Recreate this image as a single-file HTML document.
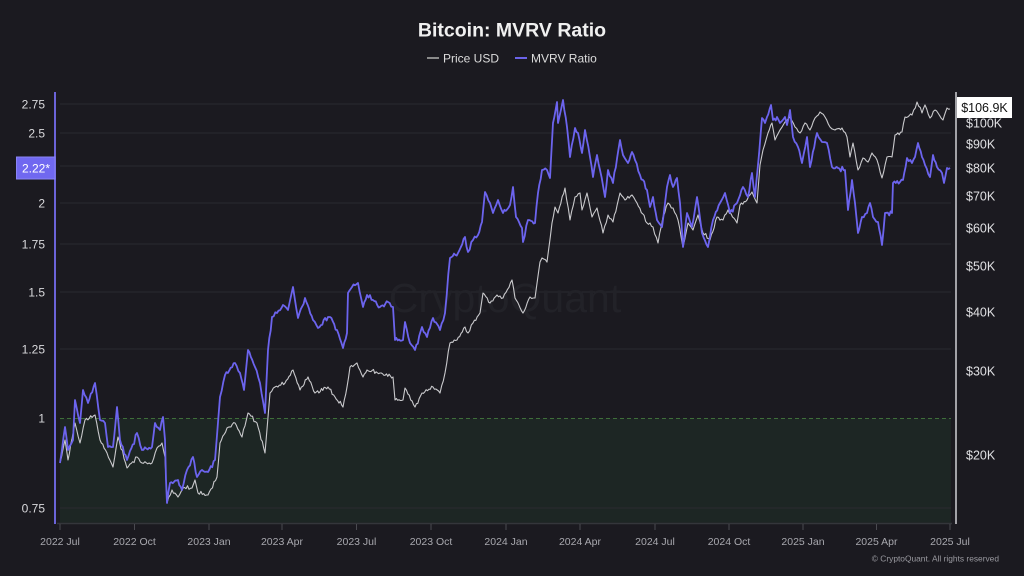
<!DOCTYPE html>
<html><head><meta charset="utf-8"><style>
html,body{margin:0;padding:0;background:#1b1a20;}
svg{display:block;font-family:"Liberation Sans",Arial,sans-serif;}
</style></head><body>
<svg width="1024" height="576" viewBox="0 0 1024 576" xmlns="http://www.w3.org/2000/svg">
<rect x="0" y="0" width="1024" height="576" fill="#1b1a20"/>
<!-- title & legend -->
<text x="512" y="36.5" text-anchor="middle" font-size="19.5" font-weight="bold" fill="#f0f0f0">Bitcoin: MVRV Ratio</text>
<line x1="427" y1="58" x2="439" y2="58" stroke="#8a8a8a" stroke-width="2"/>
<text x="443" y="62.5" font-size="12" fill="#dcdcdc">Price USD</text>
<line x1="515" y1="58" x2="527" y2="58" stroke="#6b63e8" stroke-width="2"/>
<text x="531" y="62.5" font-size="12" fill="#dcdcdc">MVRV Ratio</text>

<!-- green zone below 1 -->
<rect x="60" y="418.5" width="891" height="104" fill="#1d2624"/>
<!-- gridlines -->
<g stroke="#2a2a31" stroke-width="1">
<line x1="60" y1="104" x2="951" y2="104"/>
<line x1="60" y1="133" x2="951" y2="133"/>
<line x1="60" y1="166" x2="951" y2="166"/>
<line x1="60" y1="203" x2="951" y2="203"/>
<line x1="60" y1="244" x2="951" y2="244"/>
<line x1="60" y1="292" x2="951" y2="292"/>
<line x1="60" y1="349" x2="951" y2="349"/>
<line x1="60" y1="508" x2="951" y2="508"/>
</g>
<line x1="60" y1="418.5" x2="951" y2="418.5" stroke="#3f6e3a" stroke-width="1" stroke-dasharray="4,3"/>
<!-- watermark -->
<text x="505" y="312" text-anchor="middle" font-size="41" fill="#222228">CryptoQuant</text>

<!-- x axis -->
<line x1="57" y1="523.5" x2="952" y2="523.5" stroke="#34363b" stroke-width="1.5"/>
<g stroke="#4a4a50" stroke-width="1">
<line x1="60" y1="524" x2="60" y2="530"/>
<line x1="134.5" y1="524" x2="134.5" y2="530"/>
<line x1="209" y1="524" x2="209" y2="530"/>
<line x1="282" y1="524" x2="282" y2="530"/>
<line x1="356.5" y1="524" x2="356.5" y2="530"/>
<line x1="431" y1="524" x2="431" y2="530"/>
<line x1="506" y1="524" x2="506" y2="530"/>
<line x1="580" y1="524" x2="580" y2="530"/>
<line x1="655" y1="524" x2="655" y2="530"/>
<line x1="729" y1="524" x2="729" y2="530"/>
<line x1="803" y1="524" x2="803" y2="530"/>
<line x1="876.5" y1="524" x2="876.5" y2="530"/>
<line x1="950" y1="524" x2="950" y2="530"/>
</g>
<g font-size="10.5" fill="#a8a8ae" text-anchor="middle">
<text x="60" y="545">2022 Jul</text>
<text x="134.5" y="545">2022 Oct</text>
<text x="209" y="545">2023 Jan</text>
<text x="282" y="545">2023 Apr</text>
<text x="356.5" y="545">2023 Jul</text>
<text x="431" y="545">2023 Oct</text>
<text x="506" y="545">2024 Jan</text>
<text x="580" y="545">2024 Apr</text>
<text x="655" y="545">2024 Jul</text>
<text x="729" y="545">2024 Oct</text>
<text x="803" y="545">2025 Jan</text>
<text x="876.5" y="545">2025 Apr</text>
<text x="950" y="545">2025 Jul</text>
</g>
<text x="999" y="561.5" text-anchor="end" font-size="8.4" fill="#9a9aa0">© CryptoQuant. All rights reserved</text>

<!-- left axis -->
<line x1="55" y1="92" x2="55" y2="524" stroke="#6b63d8" stroke-width="2"/>
<g font-size="12" fill="#d9d9dc" text-anchor="end">
<text x="45" y="108.5">2.75</text>
<text x="45" y="137.5">2.5</text>
<text x="45" y="207.5">2</text>
<text x="45" y="248.5">1.75</text>
<text x="45" y="296.5">1.5</text>
<text x="45" y="353.5">1.25</text>
<text x="45" y="422.5">1</text>
<text x="45" y="512.5">0.75</text>
</g>
<rect x="16.5" y="157" width="38.5" height="22" fill="#7068f0" stroke="#8a84f5" stroke-width="1"/>
<text x="36" y="172.5" text-anchor="middle" font-size="12" fill="#ffffff">2.22*</text>

<!-- right axis -->
<line x1="956" y1="92" x2="956" y2="524" stroke="#d0d0d4" stroke-width="1.5"/>
<g font-size="12.5" fill="#e0e0e3">
<text x="966" y="127.5">$100K</text>
<text x="966" y="148.5">$90K</text>
<text x="966" y="172.5">$80K</text>
<text x="966" y="200.5">$70K</text>
<text x="966" y="232.5">$60K</text>
<text x="966" y="270.5">$50K</text>
<text x="966" y="316.5">$40K</text>
<text x="966" y="375.5">$30K</text>
<text x="966" y="459.5">$20K</text>
</g>

<!-- price series -->
<polyline id="price" fill="none" stroke="#c9c9cc" stroke-width="1.1" stroke-linejoin="round" points="60,463 65,440 68,460 75,423 80,443 85,420 95,415 100,440 107,453 113,467 118,437 127,468 137,457 142,463 152,463 157,448 162,443 165,457 167,503 172,490 178,497 183,488 192,488 195,480 198,493 208,495 217,477 220,443 227,428 235,423 242,437 248,413 257,423 265,453 270,393 275,387 285,383 293,370 300,390 308,377 315,393 328,387 335,397 343,407 347,387 350,367 357,363 363,377 367,370 380,373 393,377 395,400 403,400 405,388 415,407 422,393 433,387 440,393 445,373 450,343 457,340 465,327 468,333 473,323 480,313 483,293 490,303 497,295 503,298 512,280 515,298 523,313 530,297 535,298 540,262 542,258 547,262 552,223 555,207 558,213 565,188 570,220 575,197 580,193 582,210 587,193 592,217 597,208 603,233 608,215 613,222 620,193 625,200 632,195 637,203 647,223 653,227 658,243 663,217 668,203 673,208 678,220 683,247 688,223 693,230 698,215 703,233 710,240 717,217 723,220 728,210 737,223 740,205 747,200 752,192 757,203 760,165 763,150 768,133 772,123 775,140 780,130 785,122 790,117 795,127 800,133 805,123 810,130 815,118 820,112 825,117 830,127 835,130 842,128 847,137 850,157 853,143 858,170 863,158 868,162 872,153 877,160 882,178 887,157 892,157 895,135 902,132 905,117 912,115 917,102 922,113 925,105 930,118 935,110 938,113 943,120 947,108 950,109"/>

<!-- MVRV series -->
<polyline id="mvrv" fill="none" stroke="#6c64ee" stroke-width="1.8" stroke-linejoin="round" points="60,463 65,427 68,450 73,440 75,400 80,423 83,390 88,403 95,383 100,420 105,423 108,447 113,447 117,407 120,440 127,460 137,433 142,450 152,447 155,423 160,430 163,417 165,440 166,480 167,503 170,483 178,480 182,490 187,470 193,457 197,477 202,470 208,472 215,460 220,397 225,375 235,363 240,373 244,390 248,350 255,367 260,383 265,413 268,350 272,317 277,313 283,305 288,310 293,287 298,318 305,298 313,320 318,328 328,317 330,317 337,330 343,348 347,333 348,293 352,287 358,283 363,307 367,295 373,300 380,307 388,302 393,307 395,340 403,340 405,322 410,343 415,350 422,327 427,337 433,318 440,330 445,313 450,258 458,253 465,237 468,252 473,240 478,235 482,222 485,192 490,203 493,213 498,200 503,213 510,205 513,187 516,217 522,228 523,242 528,220 535,223 538,193 542,170 547,170 550,178 553,123 557,102 558,123 563,100 567,127 570,157 575,128 578,133 582,153 585,130 590,157 593,177 597,155 600,170 605,197 608,170 613,183 620,140 623,155 628,163 632,152 635,160 640,175 647,190 650,207 653,197 657,220 662,227 667,187 670,175 673,187 677,178 680,203 683,247 687,213 692,227 697,197 702,233 708,247 713,220 720,203 725,193 730,213 737,203 743,187 748,197 752,173 755,197 758,165 762,118 765,123 767,117 771,105 773,120 777,117 780,123 785,117 787,125 790,110 793,137 798,147 802,163 807,137 810,167 817,133 822,142 827,143 832,167 838,168 845,170 848,210 852,180 855,203 858,233 862,217 867,213 870,203 873,217 878,222 882,245 885,213 892,213 893,183 900,182 903,180 907,158 912,163 915,157 918,143 922,157 925,165 930,177 933,155 937,167 942,173 944,183 947,168 950,168"/>

<rect x="957" y="97" width="55" height="21" fill="#ffffff"/>
<text x="984.5" y="112" text-anchor="middle" font-size="12.5" fill="#111">$106.9K</text>
</svg>
<script>
(function(){
  function noise(x){
    return 1.1*Math.sin(x*1.93+0.4)+0.8*Math.sin(x*3.37+1.1)+0.6*Math.sin(x*5.71+2.3)+0.4*Math.sin(x*0.77+0.2);
  }
  function densify(id, amp){
    var el=document.getElementById(id); if(!el) return;
    var raw=el.getAttribute('points').trim().split(/\s+/).map(function(p){var a=p.split(',');return [parseFloat(a[0]),parseFloat(a[1])];});
    var out=[];
    for(var i=0;i<raw.length-1;i++){
      var a=raw[i],b=raw[i+1];
      out.push(a[0].toFixed(1)+','+a[1].toFixed(1));
      var dx=b[0]-a[0];
      var n=Math.floor(dx/1.3);
      for(var k=1;k<n;k++){
        var t=k/n;
        var x=a[0]+dx*t, y=a[1]+(b[1]-a[1])*t;
        var env=Math.min(1,Math.min(k,n-k)/1.5);
        y+=amp*env*noise(x);
        out.push(x.toFixed(1)+','+y.toFixed(1));
      }
    }
    var l=raw[raw.length-1]; out.push(l[0]+','+l[1]);
    el.setAttribute('points',out.join(' '));
  }
  try{ densify('price',1.0); densify('mvrv',1.4); }catch(e){}
})();
</script>
</body></html>
